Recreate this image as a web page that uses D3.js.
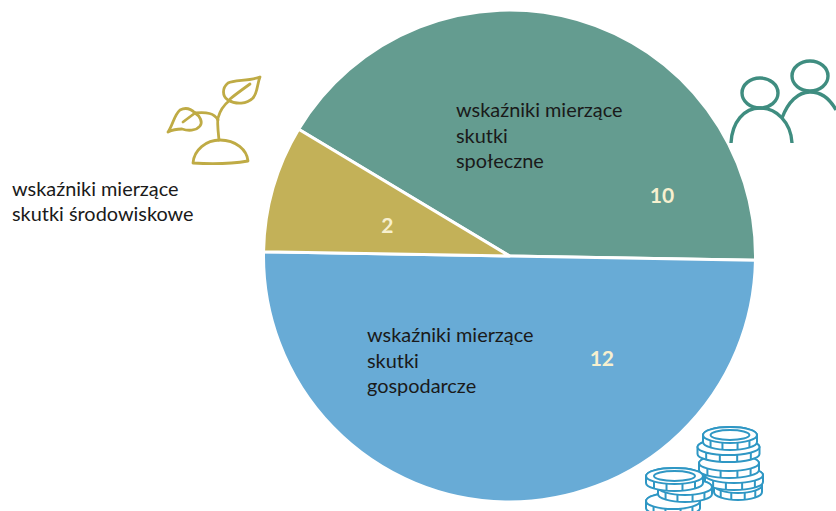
<!DOCTYPE html>
<html>
<head>
<meta charset="utf-8">
<script src="https://cdn.jsdelivr.net/npm/d3@7"></script>
<style>
  html, body { margin: 0; padding: 0; background: #fff; }
  svg { display: block; }
  text { font-family: Lato, "Open Sans", sans-serif; }
</style>
</head>
<body>
<div id="chart"></div>
<script>
// chart data
const categories = ["społeczne", "gospodarcze", "środowiskowe"];
const values = [10, 12, 2];
const colors = ["#649c90", "#68abd6", "#c3b158"];

const width = 836, height = 511;
const cx = 509.5, cy = 256, radius = 246;

const svg = d3.select("#chart")
  .append("svg")
  .attr("width", width)
  .attr("height", height)
  .attr("viewBox", `0 0 ${width} ${height}`);

const colorScale = d3.scaleOrdinal().domain(categories).range(colors);

const startAngle = -59 * Math.PI / 180;
const pieGenerator = d3.pie()
  .value(d => d.value)
  .sort(null)
  .startAngle(startAngle)
  .endAngle(startAngle + 2 * Math.PI);

const formattedData = categories.map((c, i) => ({ category: c, value: values[i] }));
const annotatedData = pieGenerator(formattedData);

const arcGenerator = d3.arc().innerRadius(0).outerRadius(radius);

const pie = svg.append("g").attr("transform", `translate(${cx},${cy})`);

pie.selectAll(".slice")
  .data(annotatedData)
  .join("path")
    .attr("class", "slice")
    .attr("d", arcGenerator)
    .attr("fill", d => colorScale(d.data.category))
    .attr("stroke", "#fff")
    .attr("stroke-width", 3)
    .attr("stroke-linejoin", "round");

// value labels sit off the bisectors in the original, so polar spots per slice
const labelSpot = {
  "społeczne": { deg: 68.4, r: 164 },
  "gospodarcze": { deg: 138, r: 138 },
  "środowiskowe": { deg: 284, r: 126 }
};

pie.selectAll(".value")
  .data(annotatedData)
  .join("text")
    .attr("class", "value")
    .attr("transform", d => {
      const spot = labelSpot[d.data.category];
      const p = d3.pointRadial(spot.deg * Math.PI / 180, spot.r);
      return `translate(${p[0]},${p[1]})`;
    })
    .attr("text-anchor", "middle")
    .attr("dy", "0.36em")
    .attr("font-size", 21)
    .attr("font-weight", 700)
    .attr("fill", "#f7f0cf")
    .text(d => d.data.value);

// category captions
const captions = [
  { x: 456, y: 117, lh: 25.5, lines: ["wskaźniki mierzące", "skutki", "społeczne"] },
  { x: 367, y: 342, lh: 25.5, lines: ["wskaźniki mierzące", "skutki", "gospodarcze"] },
  { x: 12, y: 196, lh: 25, lines: ["wskaźniki mierzące", "skutki środowiskowe"] }
];

captions.forEach(cap => {
  svg.append("g").selectAll("text")
    .data(cap.lines)
    .join("text")
      .attr("x", cap.x)
      .attr("y", (d, i) => cap.y + i * cap.lh)
      .attr("font-size", 19.9)
      .attr("fill", "#1a1a1a")
      .text(d => d);
});

// people icon
const people = svg.append("g")
  .attr("fill", "none")
  .attr("stroke", "#3f8d80")
  .attr("stroke-width", 3.4);
people.append("ellipse").attr("cx", 760).attr("cy", 93).attr("rx", 18).attr("ry", 15);
people.append("ellipse").attr("cx", 810).attr("cy", 76).attr("rx", 18).attr("ry", 15);
people.append("path").attr("d", "M731,143 C732,122 744,108 760,108 C776,108 791,122 792,143");
people.append("path").attr("d", "M782,118 C788,102 798,92 810,92 C821,92 830,99 836,110");

// plant icon
const plant = svg.append("g")
  .attr("fill", "none")
  .attr("stroke", "#bfab45")
  .attr("stroke-width", 2.8)
  .attr("stroke-linecap", "round")
  .attr("stroke-linejoin", "round");
plant.append("path").attr("d", "M193,163 C194,150 206,140 220,140 C236,140 247,150 248,161 C230,164 210,164 193,163 Z");
plant.append("path").attr("d", "M219,140 C218,130 217,122 218,118 C220,110 225,104 230,100");
plant.append("path").attr("d", "M218,120 C214,113 207,112 195,113");
plant.append("path").attr("d", "M260,77 C250,81 234,80 228,83 C222,88 222,96 228,100 C236,105 247,104 253,98 C258,92 257,84 260,77 Z");
plant.append("path").attr("d", "M230,99 C236,94 243,89 250,84");
plant.append("path").attr("d", "M168,132 C173,125 174,115 180,110 C186,107 191,109 195,113 C200,116 203,122 200,126 C196,131 188,131 182,129 C177,129 172,130 168,132 Z");
plant.append("path").attr("d", "M183,122 C187,119 191,116 195,113");

// coins, bottom ones first
const coinList = [
  { x: 738, y: 485, rx: 24 },
  { x: 734, y: 475, rx: 29 },
  { x: 729, y: 463, rx: 30 },
  { x: 728.5, y: 447, rx: 31 },
  { x: 730, y: 435, rx: 27, top: true },
  { x: 673, y: 501, rx: 27 },
  { x: 685, y: 487, rx: 27 },
  { x: 674.5, y: 476, rx: 28.5, top: true }
];

const coins = svg.append("g")
  .attr("stroke", "#2f97c4")
  .attr("stroke-width", 2)
  .attr("fill", "#fff");

coinList.forEach(c => {
  const t = 7, ry = 8; // rim thickness, ellipse height
  const g = coins.append("g").attr("transform", `translate(${c.x},${c.y})`);
  g.append("path").attr("d",
    `M${-c.rx},0 A${c.rx},${ry} 0 0 1 ${c.rx},0 V${t} A${c.rx},${ry} 0 0 1 ${-c.rx},${t} Z`);
  g.append("ellipse").attr("rx", c.rx).attr("ry", ry).attr("fill", "#fff");
  [-0.72, -0.28, 0.28, 0.72].forEach(f => {
    const px = c.rx * f;
    const py = ry * Math.sqrt(1 - f * f);
    g.append("line").attr("x1", px).attr("x2", px).attr("y1", py).attr("y2", py + t);
  });
  if (c.top) {
    g.append("ellipse").attr("rx", c.rx * 0.72).attr("ry", ry * 0.62).attr("fill", "none");
  }
});
</script>
</body>
</html>
